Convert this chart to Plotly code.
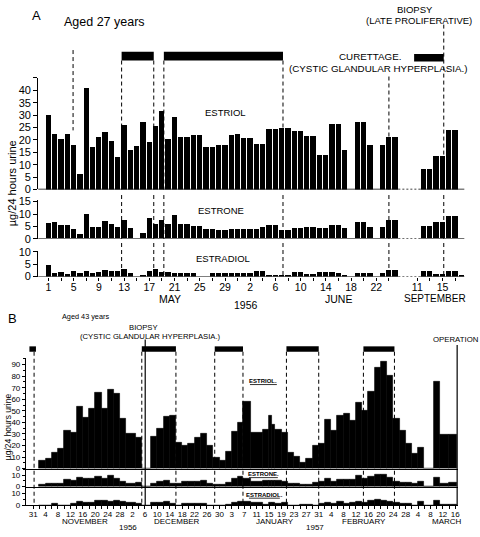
import plotly.graph_objects as go

W, H = 480, 537
FONT = "Liberation Sans, Arial, sans-serif"

# ---------------- Panel A data (x = days since May 1, 1956) ----------------
a_estriol = [30.0, 22.4, 20.4, 22.6, 17.9, 6.3, 41.0, 17.1, 21.3, 23.4,
             19.7, 13.0, 25.9, 16.1, 17.4, 27.4, 19.1, 25.7, 31.6, 20.4,
             29.2, 21.1, 21.1, 21.8, 21.8, 17.0, 17.0, 18.0, 18.0, 22.1,
             22.4, 20.9, 20.9, 18.4, 18.4, 24.3, 24.3, 25.0, 25.0, 23.7,
             23.7, 21.7, 21.7, 13.8, 13.8, 26.6, 26.6, 15.8, None, 27.2,
             27.2, 18.0, None, 17.8, 21.1, 21.1]
a_estrone = [6.2, 6.8, 5.3, 5.3, 3.7, 1.6, 9.7, 4.5, 4.5, 7.2,
             5.7, 4.6, 7.5, 4.1, None, 2.2, 8.4, 5.9, 7.4, 5.9,
             9.5, 5.8, 5.8, 5.1, 5.1, 3.8, 3.8, 3.2, 3.2, 3.8,
             3.8, 3.7, 3.7, 3.9, 4.5, 5.3, 5.3, 3.4, 3.4, 4.1,
             4.1, 4.6, 4.6, 4.2, 4.2, 5.5, 5.5, 4.3, None, 6.7,
             6.7, 4.6, None, 4.6, 7.5, 7.5]
a_estradiol = [5.0, 1.6, 2.1, 1.4, 2.6, 1.6, 2.4, 1.8, 2.2, 2.9,
               2.5, 2.5, 3.2, 1.6, None, 1.0, 2.4, 3.2, 2.2, 2.2,
               1.6, 1.6, 1.6, 1.6, 0, 0, 1.5, 1.5, 1.5, 1.5,
               1.8, 1.8, 1.8, 2.4, 2.4, 1.0, 1.0, 1.0, 1.0, 2.1,
               2.1, 1.3, 1.3, 2.2, 2.2, 2.2, 1.8, 0.8, None, 1.8,
               1.8, 1.8, None, 1.8, 2.9, 2.9]
a_sep_days = [12, 13, 14, 15, 16, 17]
a_sep_estriol = [8.3, 8.3, 13.4, 13.4, 24.1, 24.1]
a_sep_estrone = [5.1, 5.1, 6.7, 6.7, 8.9, 8.9]
a_sep_days_e2 = [12, 13, 14, 15, 16, 17, 18]
a_sep_estradiol = [2.4, 2.4, 1.3, 1.3, 2.6, 2.6, 0.8]
SEP_OFFSET = 47.5  # September days placed after the axis break

a_tick_main = [0, 4, 8, 12, 16, 20, 24, 28, 32, 36, 40, 44, 48, 52]
a_tick_main_text = ["1", "5", "9", "13", "17", "21", "25", "29", "2", "6", "10", "14", "18", "22"]
a_tick_sep = [11, 15]
a_tick_sep_text = ["11", "15"]

a_periods = [[11.6, 16.7], [18.3, 37.2], [58.0, 62.7]]
a_mark = 3.9
a_curettage = 54.0
a_biopsy = 62.7

# ---------------- Panel B data (x = days since Oct 31, 1956) ----------------
b_start = [2, 4, 6, 8, 10, 12, 14, 16, 18, 20, 22, 24, 26, 28, 30, 33, 35, 38, 40, 42,
           44, 46, 48, 50, 52, 54, 56, 58, 60, 62, 64, 66, 67.5, 70, 74, 76, 77, 78, 80, 82,
           84, 86, 88, 90, 92, 94, 96, 98, 100, 102, 104, 106, 108, 110, 112, 114, 116, 118, 120, 122,
           124, 126, 129, 131, 134]
b_last_end = 136.5
b_estriol = [6.5, 9.0, 13.5, 17, 32.5, 31, 53.5, 44, 51.5, 66, 52, 68, 65, 43.5, 30.5, 27, 0, 28, 35, 45,
             46, 22.5, 20, 22, 26.5, 30.5, 20, 9.5, 7, 15, 32, 40, 58, 31, 34, 46, 38, 34, 31.5, 14,
             10, 5, 8.5, 19.5, 21.5, 42, 33, 45.5, 47.5, 41.5, 57.5, 50, 66.5, 87, 92.5, 80.5, 43, 33, 22, 13,
             18, 0, 75, 29, 29]
b_estrone = [1.7, 2.3, 2.6, 3.0, 6.3, 4.9, 7.7, 7.4, 7.2, 9.1, 7.1, 9.7, 6.9, 4.0, 3.0, 3.2, 0, 2.3, 4.0, 5.1,
             3.0, 3.0, 4.3, 4.3, 4.3, 5.1, 2.3, 1.4, 1.4, 3.4, 6.9, 9.1, 6.9, 4.6, 5.1, 5.1, 5.1, 5.1, 4.0, 2.3,
             2.3, 1.4, 1.4, 3.4, 4.3, 7.4, 4.3, 5.7, 5.7, 5.7, 9.4, 7.4, 8.6, 10.9, 10.9, 7.7, 4.3, 3.4, 3.4, 2.9,
             4.3, 0, 8.0, 2.9, 3.4]
b_estradiol = [0, 0, 1.4, 0, 0, 1.4, 3.0, 2.4, 2.4, 3.5, 3.8, 3.0, 3.4, 3.0, 1.9, 1.0, 0, 2.2, 2.4, 3.0,
               1.1, 0, 1.6, 1.6, 1.1, 1.1, 0, 0, 0, 0.8, 2.4, 3.0, 3.0, 2.0, 0.5, 1.9, 1.9, 1.4, 1.9, 0,
               0, 0.8, 0.8, 0, 1.6, 2.2, 1.6, 3.0, 1.6, 2.2, 3.0, 2.4, 3.5, 4.6, 4.0, 3.0, 1.9, 1.4, 1.1, 0,
               3.0, 0, 3.5, 0.8, 0.8]
b_tick_days = list(range(0, 137, 4))
b_tick_text = ["31", "4", "8", "12", "16", "20", "24", "28",
               "2", "6", "10", "14", "18", "22", "26", "30",
               "3", "7", "11", "15", "19", "23", "27", "31",
               "4", "8", "12", "16", "20", "24", "28",
               "4", "8", "12", "16"]
b_periods = [[-1.2, 0.9], [35, 46], [58.5, 67.6], [81.6, 92], [106.4, 116.4]]
b_dashed = [0.3, 35, 46, 58.5, 67.6, 81.6, 92, 106.4, 116.4]
b_biopsy = 36.1
b_operation = 136.6


def px(x):
    return x / W


def py(y):
    return 1 - y / H


fig = go.Figure()

# ---- Panel A bars ----
a_x = list(range(len(a_estriol)))
sep_x = [SEP_OFFSET + d for d in a_sep_days]
sep_x2 = [SEP_OFFSET + d for d in a_sep_days_e2]
BW = 0.84
fig.add_trace(go.Bar(x=a_x + sep_x, y=a_estriol + a_sep_estriol, xaxis="x", yaxis="y",
                     marker=dict(color="black", line=dict(width=0)), width=BW))
fig.add_trace(go.Bar(x=a_x + sep_x, y=a_estrone + a_sep_estrone, xaxis="x2", yaxis="y2",
                     marker=dict(color="black", line=dict(width=0)), width=BW))
fig.add_trace(go.Bar(x=a_x + sep_x2, y=a_estradiol + a_sep_estradiol, xaxis="x3", yaxis="y3",
                     marker=dict(color="black", line=dict(width=0)), width=BW))

# ---- Panel B step bars ----
b_end = b_start[1:] + [b_last_end]
b_w = [e - s for s, e in zip(b_start, b_end)]
for vals, xa, ya in [(b_estriol, "x4", "y4"), (b_estrone, "x5", "y5"), (b_estradiol, "x6", "y6")]:
    fig.add_trace(go.Bar(x=b_start, y=vals, width=b_w, offset=0, xaxis=xa, yaxis=ya,
                         marker=dict(color="black", line=dict(width=0.6, color="black"))))

# ---- axes ----
A_XR = [-1.64, 66.0]
A_XD = [px(38.3), px(466.5)]
B_XR = [-2.34, 136.9]
B_XD = [px(26), px(460)]


def ydom(base, top):
    return [py(base), py(top)]


tickfontA = dict(family=FONT, size=11, color="black")
tickfontAx = dict(family=FONT, size=10.5, color="black")
tickfontB = dict(family=FONT, size=8, color="black")

common_y = dict(showline=True, linecolor="black", linewidth=1, ticks="outside", ticklen=4,
                tickcolor="black", showgrid=False, zeroline=False, fixedrange=True)

lay = dict(
    width=W, height=H, margin=dict(l=0, r=0, t=0, b=0), autosize=False,
    paper_bgcolor="white", plot_bgcolor="rgba(0,0,0,0)", showlegend=False, bargap=0,
    font=dict(family=FONT, color="black"),
)
# Panel A x axes
for i, name in enumerate(["xaxis", "xaxis2", "xaxis3"]):
    ax = dict(domain=A_XD, range=A_XR, showline=False, showgrid=False, zeroline=False,
              anchor=["y", "y2", "y3"][i])
    if name == "xaxis3":
        ax.update(tickmode="array",
                  tickvals=a_tick_main + [SEP_OFFSET + d for d in a_tick_sep],
                  ticktext=a_tick_main_text + a_tick_sep_text,
                  ticks="outside", ticklen=3, tickcolor="black", tickfont=tickfontAx,
                  ticklabelstandoff=-2,
                  minor=dict(tickvals=[t + 2 for t in a_tick_main] + [SEP_OFFSET + d + 2 for d in a_tick_sep],
                             ticks="outside", ticklen=3, tickcolor="black"))
    else:
        ax.update(showticklabels=False, ticks="")
    lay[name] = ax

lay["yaxis"] = dict(common_y, domain=ydom(188.3, 188.3 - 45 * 2.53), range=[0, 45], anchor="x",
                    tickvals=list(range(0, 46, 5)),
                    ticktext=[str(v) for v in range(0, 41, 5)] + [""], tickfont=tickfontA)
lay["yaxis2"] = dict(common_y, domain=ydom(238.7, 238.7 - 15.5 * 2.53), range=[0, 15.5], anchor="x2",
                     tickvals=[0, 5, 10, 15], tickfont=tickfontA)
lay["yaxis3"] = dict(common_y, domain=ydom(277.3, 277.3 - 10.5 * 2.53), range=[0, 10.5], anchor="x3",
                     tickvals=[0, 5, 10], tickfont=tickfontA)

# Panel B x axes
for i, name in enumerate(["xaxis4", "xaxis5", "xaxis6"]):
    ax = dict(domain=B_XD, range=B_XR, showline=True, linecolor="black", linewidth=1,
              showgrid=False, zeroline=False, anchor=["y4", "y5", "y6"][i])
    if name == "xaxis6":
        ax.update(tickmode="array", tickvals=b_tick_days, ticktext=b_tick_text,
                  ticks="outside", ticklen=3, tickcolor="black", tickfont=tickfontB,
                  ticklabelstandoff=-2,
                  minor=dict(tickvals=[d + 2 for d in b_tick_days if d + 2 < 137],
                             ticks="outside", ticklen=3, tickcolor="black"))
    else:
        ax.update(showticklabels=False, ticks="")
    lay[name] = ax

lay["yaxis4"] = dict(common_y, domain=ydom(473.3, 473.3 - 96 * 1.18), range=[0, 96], anchor="x4",
                     tickvals=list(range(0, 91, 10)), tickfont=tickfontB, ticklen=3,
                     minor=dict(tickvals=list(range(5, 96, 10)), ticks="outside", ticklen=2, tickcolor="black"))
lay["yaxis5"] = dict(common_y, domain=ydom(491.7, 473.3), range=[0, 15.7], anchor="x5",
                     tickvals=[0, 10], tickfont=tickfontB, ticklen=3,
                     minor=dict(tickvals=[5, 15], ticks="outside", ticklen=2, tickcolor="black"))
lay["yaxis6"] = dict(common_y, domain=ydom(510.7, 491.7), range=[0, 15.3], anchor="x6",
                     tickvals=[0, 10], tickfont=tickfontB, ticklen=3,
                     minor=dict(tickvals=[5, 15], ticks="outside", ticklen=2, tickcolor="black"))
fig.update_layout(**lay)

shapes = []
DASH = "4px,3px"

# Panel A baselines (solid, dotted across the break, solid)
gap_a = a_x[-1] + 0.5
gap_b = SEP_OFFSET + a_sep_days[0] - 0.5
for xa, ya in [("x", "y"), ("x2", "y2"), ("x3", "y3")]:
    shapes.append(dict(type="line", xref=xa, yref=ya, x0=A_XR[0], x1=gap_a, y0=0, y1=0,
                       line=dict(color="black", width=1.2)))
    shapes.append(dict(type="line", xref=xa, yref=ya, x0=gap_a, x1=gap_b, y0=0, y1=0,
                       line=dict(color="black", width=1.2, dash="2px,2px")))
    shapes.append(dict(type="line", xref=xa, yref=ya, x0=gap_b, x1=A_XR[1], y0=0, y1=0,
                       line=dict(color="black", width=1.2)))

# Panel A treatment periods
for i, (s, e) in enumerate(a_periods):
    top, bot = (47.7, 56.7) if i < 2 else (50, 57.7)
    shapes.append(dict(type="rect", xref="x", yref="paper", x0=s, x1=e, y0=py(bot), y1=py(top),
                       fillcolor="black", line=dict(width=0)))


def a_dashed(x, ystart):
    out = []
    out.append(dict(type="line", xref="x", yref="paper", x0=x, x1=x, y0=py(ystart), y1=py(188.3),
                    line=dict(color="black", width=1, dash=DASH), layer="below"))
    for s0, s1 in [(194, 238.7), (243, 277.3)]:
        out.append(dict(type="line", xref="x", yref="paper", x0=x, x1=x, y0=py(s0), y1=py(s1),
                        line=dict(color="black", width=1, dash=DASH), layer="below"))
    return out


for s, e in a_periods[:2]:
    shapes += a_dashed(s, 56.7)
    shapes += a_dashed(e, 56.7)
shapes += a_dashed(a_curettage, 73)
shapes += a_dashed(a_biopsy, 20)
shapes.append(dict(type="line", xref="x", yref="paper", x0=a_mark, x1=a_mark, y0=py(46), y1=py(128),
                   line=dict(color="black", width=1, dash=DASH), layer="below"))

# Panel B periods
for i, (s, e) in enumerate(b_periods):
    shapes.append(dict(type="rect", xref="x4", yref="paper", x0=s, x1=e, y0=py(354), y1=py(348.5),
                       fillcolor="black", line=dict(width=0)))
for d in b_dashed:
    shapes.append(dict(type="line", xref="x4", yref="paper", x0=d, x1=d, y0=py(354), y1=py(510.7),
                       line=dict(color="black", width=1, dash=DASH), layer="below"))
shapes.append(dict(type="line", xref="x4", yref="paper", x0=b_biopsy, x1=b_biopsy, y0=py(341.5), y1=py(510.7),
                   line=dict(color="black", width=1.2)))
shapes.append(dict(type="line", xref="x4", yref="paper", x0=b_operation, x1=b_operation, y0=py(347), y1=py(510.7),
                   line=dict(color="black", width=1.2)))
# underlines of small labels in panel B
for yy, x0, x1 in [(387.5, 251, 278), (482.5, 250, 279), (503.5, 250, 281)]:
    shapes.append(dict(type="line", xref="paper", yref="paper", x0=px(x0), x1=px(x1), y0=py(yy), y1=py(yy),
                       line=dict(color="black", width=0.8)))
fig.update_layout(shapes=shapes)


def ann(text, x, y, size, angle=0, xanchor="center"):
    return dict(text=text, x=px(x), y=py(y), xref="paper", yref="paper", showarrow=False,
                xanchor=xanchor, yanchor="middle", textangle=angle,
                font=dict(family=FONT, size=size, color="black"))


anns = [
    ann("A", 37, 11, 13),
    ann("Aged 27 years", 105, 17, 12.5),
    ann("BIOPSY", 417, 5, 9.5),
    ann("(LATE PROLIFERATIVE)", 421, 16, 9.5),
    ann("CURETTAGE.", 372, 52.7, 9.8),
    ann("(CYSTIC GLANDULAR HYPERPLASIA.)", 380.5, 65, 9.8),
    ann("ESTRIOL", 226, 110, 9.5),
    ann("ESTRONE", 222, 209.3, 9.5),
    ann("ESTRADIOL", 224, 258.3, 9.5),
    ann("µg/24 hours urine", 12, 182, 11, angle=-90),
    ann("MAY", 171, 300.5, 10.5),
    ann("1956", 247, 306.5, 10.5),
    ann("JUNE", 340, 300.5, 10.5),
    ann("SEPTEMBER", 437, 300, 10),
    ann("B", 13, 320, 13),
    ann("Aged 43 years", 86, 318.5, 7.3),
    ann("BIOPSY", 144, 329.3, 7.7),
    ann("(CYSTIC GLANDULAR HYPERPLASIA.)", 151, 338, 7.7),
    ann("OPERATION", 457, 341.7, 7.8),
    ann("<b>ESTRIOL.</b>", 264.5, 384, 6),
    ann("<b>ESTRONE.</b>", 264.5, 479, 6),
    ann("<b>ESTRADIOL.</b>", 265.5, 500, 6),
    ann("µg/24 hours urine", 8, 430, 8.5, angle=-90),
    ann("NOVEMBER", 85, 527.5, 8),
    ann("1956", 129, 533.3, 8),
    ann("DECEMBER", 178, 527.5, 8),
    ann("JANUARY", 276, 527.5, 8),
    ann("1957", 316, 533.3, 8),
    ann("FEBRUARY", 366, 527.5, 8),
    ann("MARCH", 449, 527.5, 8),
]
fig.update_layout(annotations=anns)

fig.write_html("out.html", config={"displayModeBar": False},
               post_script="document.body.style.margin='0';document.body.style.overflow='hidden';")
